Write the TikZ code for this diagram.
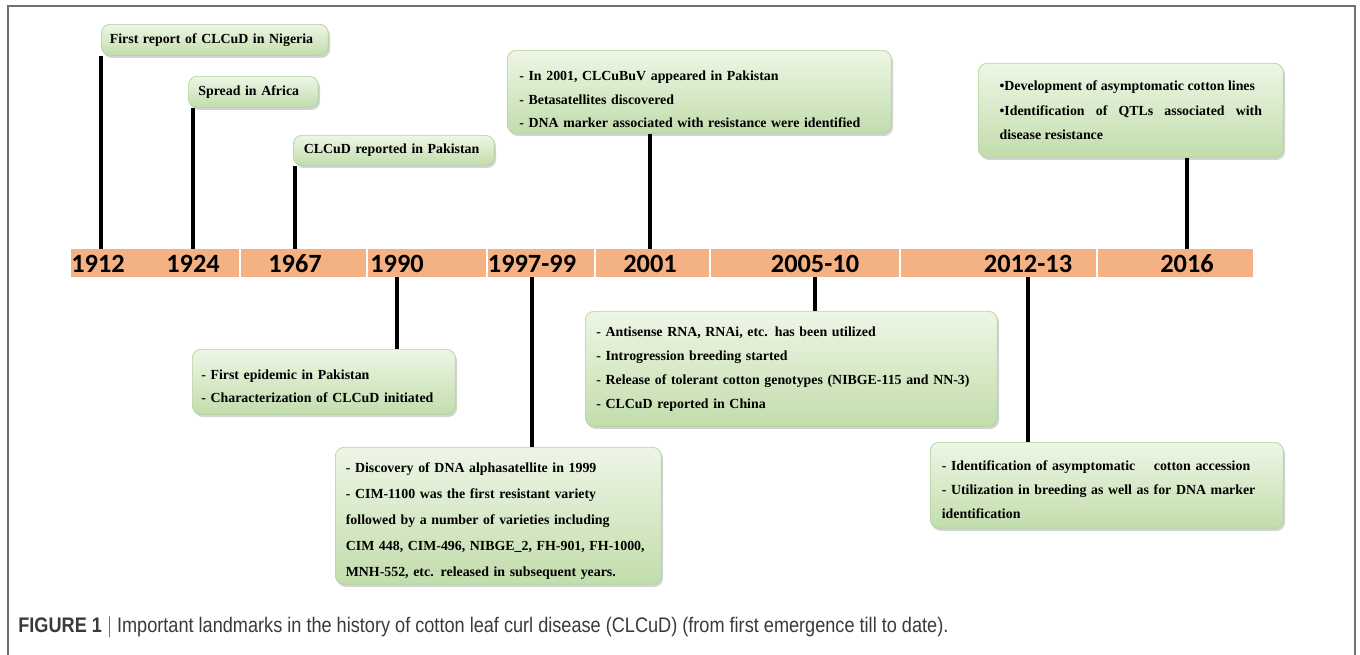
\documentclass[tikz,border=0pt]{standalone}
\usepackage{fontspec}
\setmainfont{Liberation Serif}
\setsansfont{Liberation Sans}
\newfontfamily\yearfont{Carlito}
\usetikzlibrary{positioning, shadows, calc}
\definecolor{tlbar}{HTML}{F4B183}
\definecolor{boxtop}{HTML}{EEF6E6}
\definecolor{boxbot}{HTML}{C2DDAC}
\definecolor{boxline}{HTML}{B3D29A}
\definecolor{framegray}{HTML}{707070}
\definecolor{captext}{HTML}{3A3A3A}

\begin{document}
\begin{tikzpicture}[x=0.02cm, y=-0.02cm,
    event/.style={draw=boxline, top color=boxtop, bottom color=boxbot,
          rounded corners=5pt, anchor=north west, align=left, inner xsep=0pt, inner ysep=0pt,
          font=\fontsize{7.9}{13.6}\selectfont\bfseries, text=black,
          execute at begin node={\hyphenpenalty=10000\exhyphenpenalty=10000},
          drop shadow={opacity=0.35, shadow xshift=1pt, shadow yshift=-1.5pt}},
    lower/.style={execute at begin node={\hyphenpenalty=10000\exhyphenpenalty=10000\rule{0pt}{#1}}},
    year/.style={font=\yearfont\fontsize{15}{15}\selectfont\bfseries, text=black, anchor=base},
    stem/.style={line width=2.2pt, black}]
  \useasboundingbox (0,0) rectangle (1360,654);
  \draw[framegray, line width=1pt] (8,660) -- (8,6) -- (1355,6) -- (1355,660);

  % timeline bar
  \node[fill=tlbar, minimum width=23.64cm, minimum height=0.56cm, inner sep=0pt] (bar) at (662,263) {};
  \foreach \x in {240,367,487,595,710,900,1097}
    \draw[white, line width=1pt] (\x,0 |- bar.north) -- (\x,0 |- bar.south);

  \node[year] (y1912) at (98,272) {1912};
  \node[year] (y1924) at (193,272) {1924};
  \node[year] (y1967) at (295,272) {1967};
  \node[year] (y1990) at (397,272) {1990};
  \node[year] (y1997) at (532,272) {1997-99};
  \node[year] (y2001) at (650,272) {2001};
  \node[year] (y2005) at (815,272) {2005-10};
  \node[year] (y2012) at (1028,272) {2012-13};
  \node[year] (y2016) at (1187,272) {2016};

  % events above the bar
  \node[event, minimum width=4.54cm, minimum height=0.62cm, text width=4.2cm] (b1912) at (101,24)
    {First report of CLCuD in Nigeria};
  \node[event, minimum width=2.6cm, minimum height=0.62cm, text width=2.2cm] (b1924) at (188,76)
    {Spread in Africa};
  \node[event, minimum width=4.02cm, minimum height=0.6cm, text width=3.6cm] (b1967) at (293,135)
    {CLCuD reported in Pakistan};
  \node[event, lower=14pt, minimum width=7.68cm, minimum height=1.66cm, text width=7.2cm] (b2001) at (507,50)
    {- In 2001, CLCuBuV appeared in Pakistan\\
     - Betasatellites discovered\\
     - DNA marker associated with resistance were identified};
  \node[event, minimum width=6.1cm, minimum height=1.88cm, text width=5.25cm, align=justify,
        font=\fontsize{7.9}{14}\selectfont\bfseries] (b2016) at (978,63)
    {\textbullet Development of asymptomatic cotton lines\\
     \textbullet Identification of QTLs associated with disease resistance};

  % events below the bar
  \node[event, lower=10.5pt, minimum width=5.26cm, minimum height=1.3cm, text width=4.9cm] (b1990) at (192,349)
    {- First epidemic in Pakistan\\
     - Characterization of CLCuD initiated};
  \node[event, lower=11.5pt, minimum width=6.52cm, minimum height=2.74cm, text width=6.1cm,
        font=\fontsize{7.9}{14.7}\selectfont\bfseries] (b1997) at (335,447)
    {- Discovery of DNA alphasatellite in 1999\\
     - CIM-1100 was the first resistant variety\\
     followed by a number of varieties including\\
     CIM 448, CIM-496, NIBGE\_2, FH-901, FH-1000,\\
     MNH-552, etc. released in subsequent years.};
  \node[event, minimum width=8.24cm, minimum height=2.3cm, text width=7.8cm] (b2005) at (585,311)
    {- Antisense RNA, RNAi, etc. has been utilized\\
     - Introgression breeding started\\
     - Release of tolerant cotton genotypes (NIBGE-115 and NN-3)\\
     - CLCuD reported in China};
  \node[event, lower=10.5pt, minimum width=7.06cm, minimum height=1.72cm, text width=6.6cm] (b2012) at (930,442)
    {- Identification of asymptomatic \quad cotton accession\\
     - Utilization in breeding as well as for DNA marker\\
     identification};

  % stems
  \draw[stem] (b1912.south west) -- (b1912.south west |- bar.north);
  \foreach \y/\b in {y1924/b1924, y1967/b1967, y2001/b2001, y2016/b2016}
    \draw[stem] (\y |- \b.south) -- (\y |- bar.north);
  \foreach \y/\b in {y1990/b1990, y1997/b1997, y2005/b2005, y2012/b2012}
    \draw[stem] (\y |- bar.south) -- (\y |- \b.north);

  \node[anchor=west, font=\sffamily\fontsize{12}{14}\selectfont, text=captext, inner sep=0pt] (cap) at (18,627)
    {\scalebox{0.86}[1]{\textbf{FIGURE 1} $|$ Important landmarks in the history of cotton leaf curl disease (CLCuD) (from first emergence till to date).}};
\end{tikzpicture}
\end{document}
